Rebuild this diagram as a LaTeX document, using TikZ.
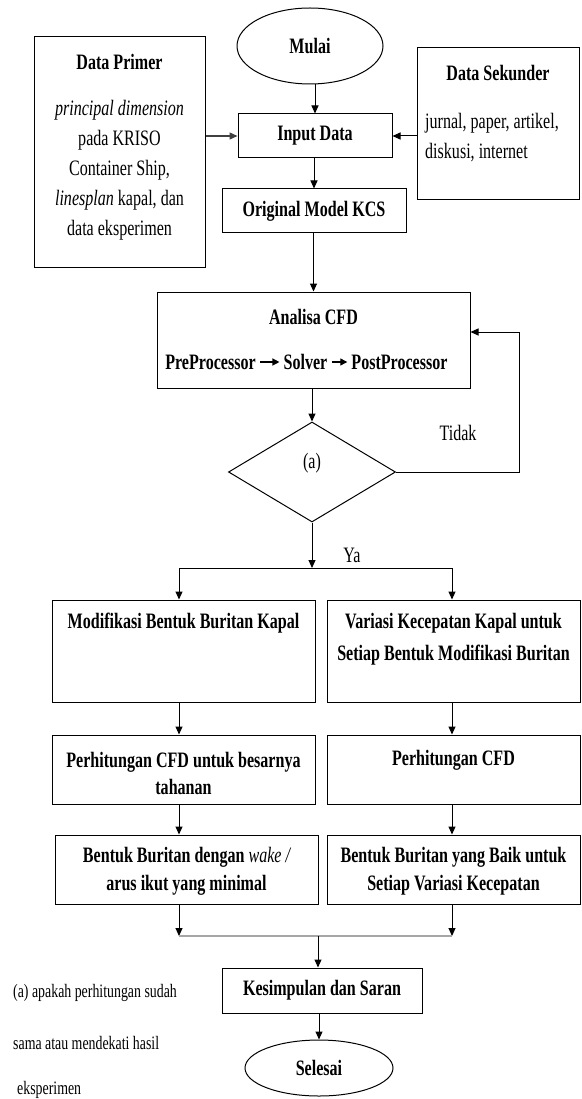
\documentclass[tikz,border=0pt]{standalone}
\usepackage{fontspec}
\setmainfont{Liberation Serif}[FakeStretch=0.73]
\usetikzlibrary{shapes.geometric,arrows.meta}
\begin{document}
\begin{tikzpicture}[x=1pt,y=-1pt,
  box/.style={draw, line width=1pt, inner sep=0pt},
  T/.style={inner sep=0pt, font=\fontsize{22}{28}\selectfont},
  B/.style={inner sep=0pt, font=\fontsize{22}{28}\selectfont\bfseries},
  F/.style={inner sep=0pt, font=\fontsize{19}{20}\selectfont},
  arr/.style={line width=1pt, -{Triangle[length=8pt,width=7pt]}},
  sarr/.style={line width=1.3pt, -{Triangle[length=7pt,width=7pt]}, shorten <=4pt, shorten >=4pt},
  ln/.style={line width=1pt}]
\useasboundingbox (0,0) rectangle (581,1099);
\fill[white] (0,0) rectangle (581,1099);

% top
\node[box, ellipse, minimum width=146pt, minimum height=76pt, B] (mulai) at (310,46) {Mulai};

\node[box, minimum width=171pt, minimum height=230pt] (primer) at (119.5,152) {};
\node[B] (primerT) at (119.5,62) {Data Primer};
\node[T, align=center, font=\fontsize{22}{30}\selectfont] (primerB) at (119.5,170)
  {\textit{principal dimension}\\ pada KRISO\\ Container Ship,\\ \textit{linesplan} kapal, dan\\ data eksperimen};

\node[box, minimum width=162pt, minimum height=152pt] (sek) at (498,124) {};
\node[B] (sekT) at (498,73) {Data Sekunder};
\node[T, align=left, anchor=west, font=\fontsize{22}{30}\selectfont] (sekB) at (425,138)
  {jurnal, paper, artikel,\\ diskusi, internet};

\node[box, minimum width=154pt, minimum height=44pt, B] (input) at (315,136) {Input Data};
\node[box, minimum width=184pt, minimum height=44pt, B] (orig) at (314,211) {Original Model KCS};

% analisa
\node[box, minimum width=313pt, minimum height=96pt] (analisa) at (313.5,340) {};
\node[B] (analisaT) at (313.5,317) {Analisa CFD};
\node[B] (pre) at (210.5,362) {PreProcessor};
\node[B] (solver) at (305.5,362) {Solver};
\node[B] (post) at (399.5,362) {PostProcessor};
\draw[sarr] (pre) -- (solver);
\draw[sarr] (solver) -- (post);

% decision
\node[box, diamond, minimum width=167pt, minimum height=100pt] (dec) at (312,472) {};
\node[T] (decT) at (312,463) {(a)};
\node[T] (tidak) at (458,433) {Tidak};
\node[T] (ya) at (352,555) {Ya};

\coordinate (lp1) at (519,472);
\coordinate (lp2) at (519,332);
\coordinate (sC) at (312,568);
\coordinate (sL) at (179,568);
\coordinate (sR) at (452,568);

% columns
\node[box, minimum width=263pt, minimum height=102pt] (modif) at (183.5,651) {};
\node[B] (modifT) at (183.5,623) {Modifikasi Bentuk Buritan Kapal};
\node[box, minimum width=253pt, minimum height=102pt] (var) at (453.5,651) {};
\node[B, align=center, font=\fontsize{22}{32}\selectfont\bfseries] (varT) at (453.5,639)
  {Variasi Kecepatan Kapal untuk\\ Setiap Bentuk Modifikasi Buritan};

\node[box, minimum width=263pt, minimum height=69pt] (perh1) at (183.5,769.5) {};
\node[B, align=center, font=\fontsize{22}{27}\selectfont\bfseries] (perh1T) at (183.5,773.5)
  {Perhitungan CFD untuk besarnya\\ tahanan};
\node[box, minimum width=253pt, minimum height=69pt] (perh2) at (453.5,769.5) {};
\node[B] (perh2T) at (453.5,760) {Perhitungan CFD};

\node[box, minimum width=263pt, minimum height=69pt] (ben1) at (186.5,869.5) {};
\node[B, align=center] (ben1T) at (186.5,871)
  {Bentuk Buritan dengan {\mdseries\itshape wake /}\\ arus ikut yang minimal};
\node[box, minimum width=253pt, minimum height=69pt] (ben2) at (453.5,869.5) {};
\node[B, align=center] (ben2T) at (453.5,871)
  {Bentuk Buritan yang Baik untuk\\ Setiap Variasi Kecepatan};

\coordinate (mL) at (179,936);
\coordinate (mR) at (452,936);
\coordinate (mC) at (318,936);

\node[box, minimum width=200pt, minimum height=45pt, B] (kes) at (322,990.5) {Kesimpulan dan Saran};
\node[box, ellipse, minimum width=148pt, minimum height=56pt, B] (sel) at (319,1068) {Selesai};

% footnote
\node[F, anchor=west] (fn1) at (13,993) {(a) apakah perhitungan sudah};
\node[F, anchor=west] (fn2) at (13,1043) {sama atau mendekati hasil};
\node[F, anchor=west] (fn3) at (17,1090) {eksperimen};

% connectors
\draw[arr] (mulai.south -| input.north) -- (input.north);
\draw[arr, draw=black!75, line width=1.4pt] (primer.east |- input.west) -- (input.west);
\draw[arr] (sek.west |- input.east) -- (input.east);
\draw[arr] (input.south -| orig.north) -- (orig.north);
\draw[arr] (orig.south -| analisa.north) -- (analisa.north);
\draw[arr] (analisa.south -| dec.north) -- (dec.north);
\draw[arr] (dec.east) -- (lp1) -- (lp2) -- (lp2 -| analisa.east);
\draw[arr] (dec.south) -- (sC);
\draw[ln] (sL) -- (sR);
\draw[arr] (sL) -- (sL |- modif.north);
\draw[arr] (sR) -- (sR |- var.north);
\draw[arr] (sL |- modif.south) -- (sL |- perh1.north);
\draw[arr] (sR |- var.south) -- (sR |- perh2.north);
\draw[arr] (sL |- perh1.south) -- (sL |- ben1.north);
\draw[arr] (sR |- perh2.south) -- (sR |- ben2.north);
\draw[arr] (mL |- ben1.south) -- (mL);
\draw[arr] (mR |- ben2.south) -- (mR);
\draw[line width=2.5pt, gray!70] (mL) -- (mR);
\draw[arr] (mC) -- (mC |- kes.north);
\draw[arr] (sel.north |- kes.south) -- (sel.north);
\end{tikzpicture}
\end{document}
